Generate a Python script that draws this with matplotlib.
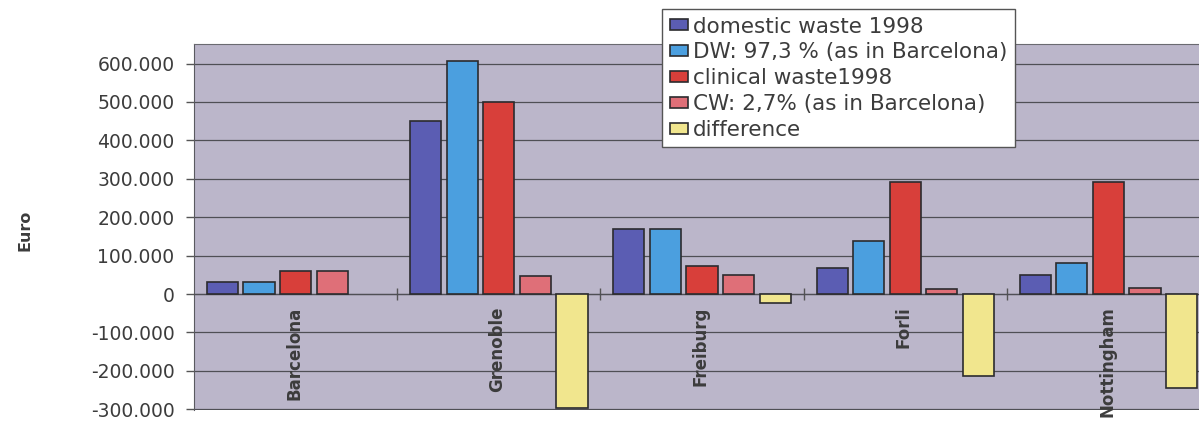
"""
Waste disposal costs per city: domestic vs clinical waste, 1998.
Run: python plot.py
"""

import matplotlib
matplotlib.use("Agg")
import numpy as np
import matplotlib.pyplot as plt
from matplotlib.ticker import FuncFormatter

cities = ["Barcelona", "Grenoble", "Freiburg", "Forli", "Nottingham"]

domestic_1998 = [32000, 450000, 169000, 68000, 49000]
dw_barcelona = [32000, 607000, 169000, 139000, 82000]
clinical_1998 = [61000, 499000, 73000, 292000, 292000]
cw_barcelona = [61000, 47000, 49000, 13000, 15000]
difference = [0, -296000, -24000, -214000, -246000]

series_labels = [
    "domestic waste 1998",
    "DW: 97,3 % (as in Barcelona)",
    "clinical waste1998",
    "CW: 2,7% (as in Barcelona)",
    "difference",
]
series_colors = ["#5b5db3", "#4b9fdf", "#d83f3a", "#df6f78", "#f1e68e"]

y_ticks = list(range(-300000, 600001, 100000))

TEXT = "#3c3c3c"
GRID = "#4f4f55"
EDGE = "#2b2b2e"
PLOT_BG = "#bbb6ca"

plt.rcParams.update({
    "font.family": "DejaVu Sans",
    "text.color": TEXT,
})

fig = plt.figure(figsize=(11.99, 4.21), dpi=100)
ax = fig.add_axes([194 / 1199, 1 - 410 / 421, 1 - 194 / 1199, 366 / 421])
ax.set_facecolor(PLOT_BG)

x = np.arange(len(cities))
pitch, width = 0.18, 0.153
all_series = [domestic_1998, dw_barcelona, clinical_1998, cw_barcelona, difference]
for k, (vals, color, label) in enumerate(zip(all_series, series_colors, series_labels)):
    # empty values get no outline, so nothing shows up for them
    edges = [1.2 if v else 0 for v in vals]
    ax.bar(x + (k - 2) * pitch, vals, width=width, color=color,
           edgecolor=EDGE, linewidth=edges, label=label, zorder=3)

ax.set_xlim(-0.5, 4.5 - 11 / 203)
ax.set_ylim(-302000, 651000)

# y axis: dotted-thousands labels, outward ticks
ax.set_yticks(y_ticks)
ax.yaxis.set_major_formatter(FuncFormatter(lambda v, _: f"{v:,.0f}".replace(",", ".")))
ax.tick_params(axis="y", length=6, width=1, color="#555", labelsize=13.5,
               labelcolor=TEXT, pad=8)
ax.yaxis.grid(True, color=GRID, linewidth=0.9)
ax.set_axisbelow(True)

# category axis sits on the zero line, ticks between the groups
ax.spines["bottom"].set_position(("data", 0))
ax.spines["bottom"].set_color(GRID)
ax.spines["bottom"].set_linewidth(0.9)
ax.spines["right"].set_visible(False)
ax.spines["left"].set_color("#5a5a60")
ax.spines["top"].set_color("#6a6a70")
ax.set_xticks(x[:-1] + 0.5)
ax.set_xticklabels([])
ax.tick_params(axis="x", direction="inout", length=9, width=1, color="#555")

for i, city in enumerate(cities):
    ax.annotate(city, xy=(i, 0), xytext=(-1, -9), textcoords="offset points",
                rotation=90, ha="center", va="top", fontsize=12,
                fontweight="bold", color=TEXT, annotation_clip=False)

fig.text(25 / 1199, 1 - 230 / 421, "Euro", rotation=90, ha="center", va="center",
         fontsize=11.5, fontweight="bold", color=TEXT)

leg = ax.legend(loc="upper left", bbox_to_anchor=(662 / 1199, 1 - 9 / 421),
                bbox_transform=fig.transFigure, borderaxespad=0,
                fontsize=15.5, handlelength=0.85, handleheight=0.42,
                handletextpad=0.25, labelspacing=0.27, borderpad=0.35,
                fancybox=False, framealpha=1, edgecolor="#555")
leg.get_frame().set_linewidth(1)
for h in leg.legend_handles:
    h.set_edgecolor(EDGE)
    h.set_linewidth(1.2)
for t in leg.get_texts():
    t.set_color(TEXT)

fig.savefig("out.png", dpi=100)
